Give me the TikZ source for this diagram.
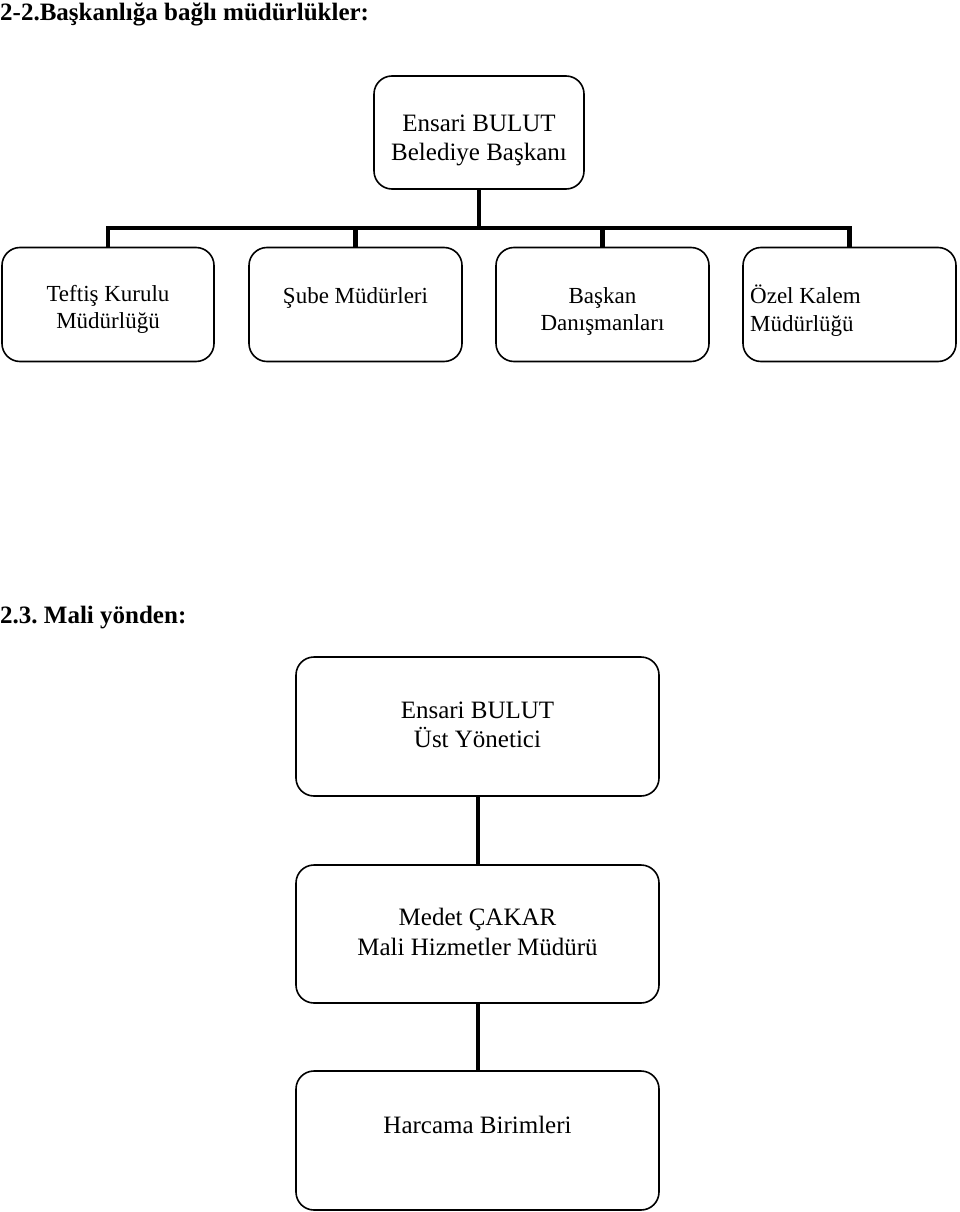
\documentclass[tikz,border=0pt]{standalone}
\usepackage{fontspec}
\setmainfont{Liberation Serif}
\frenchspacing
\begin{document}
\begin{tikzpicture}[x=1pt,y=-1pt,
  box/.style={draw=black,line width=1.6pt,rounded corners=18pt,inner sep=0pt},
  conn/.style={draw=black,line width=4.5pt},
  big/.style={font=\fontsize{25}{29.5}\selectfont,align=center,inner sep=0pt},
  small/.style={font=\fontsize{23}{27.5}\selectfont,align=center,inner sep=0pt},
  head/.style={font=\fontsize{25}{29}\selectfont\bfseries,inner sep=0pt,anchor=base west}]
\useasboundingbox[fill=white] (0,0) rectangle (960,1212);
% headings
\node[head] (h1) at (0,21) {2-2.Başkanlığa bağlı müdürlükler:};
\node[head] (h2) at (0,623) {2.3. Mali yönden:};
% top box
\node[box,minimum width=210pt,minimum height=113pt] (top) at (479,132.5) {};
\node[big] (toptext) at (479,140.5) {Ensari BULUT\\Belediye Başkanı};
% row 2
\node[box,minimum width=212pt,minimum height=114pt] (b1) at (108,304.5) {};
\node[box,minimum width=213pt,minimum height=114pt] (b2) at (355.5,304.5) {};
\node[box,minimum width=213pt,minimum height=114pt] (b3) at (602.5,304.5) {};
\node[box,minimum width=213pt,minimum height=114pt] (b4) at (849.5,304.5) {};
\node[small] (t1) at (108,309.5) {Teftiş Kurulu\\Müdürlüğü};
\node[small] (t2) at (355.5,298) {Şube Müdürleri};
\node[small] (t3) at (602.5,311.5) {Başkan\\Danışmanları};
\node[small,align=left,anchor=west] (t4) at (750,310.5) {Özel Kalem\\Müdürlüğü};
% bus
\coordinate (bus) at (479,228);
\draw[conn] (top.south) -- (top.south |- bus);
\draw[conn,line join=miter] (b1.north) -- (b1.north |- bus) -- (b4.north |- bus) -- (b4.north);
\draw[conn] (b2.north |- bus) -- (b2.north);
\draw[conn] (b3.north |- bus) -- (b3.north);
% lower chart
\node[box,minimum width=363pt,minimum height=139pt] (m1) at (477.5,726.5) {};
\node[big] (m1t) at (477.5,725) {Ensari BULUT\\Üst Yönetici};
\node[box,minimum width=363pt,minimum height=138pt] (m2) at (477.5,934) {};
\node[big] (m2t) at (477.5,932) {Medet ÇAKAR\\Mali Hizmetler Müdürü};
\node[box,minimum width=363pt,minimum height=139pt] (m3) at (477.5,1140.5) {};
\node[big] (m3t) at (477.5,1125) {Harcama Birimleri};
\draw[conn,line width=4pt] (m1.south) -- (m2.north);
\draw[conn,line width=4pt] (m2.south) -- (m3.north);
\end{tikzpicture}
\end{document}
